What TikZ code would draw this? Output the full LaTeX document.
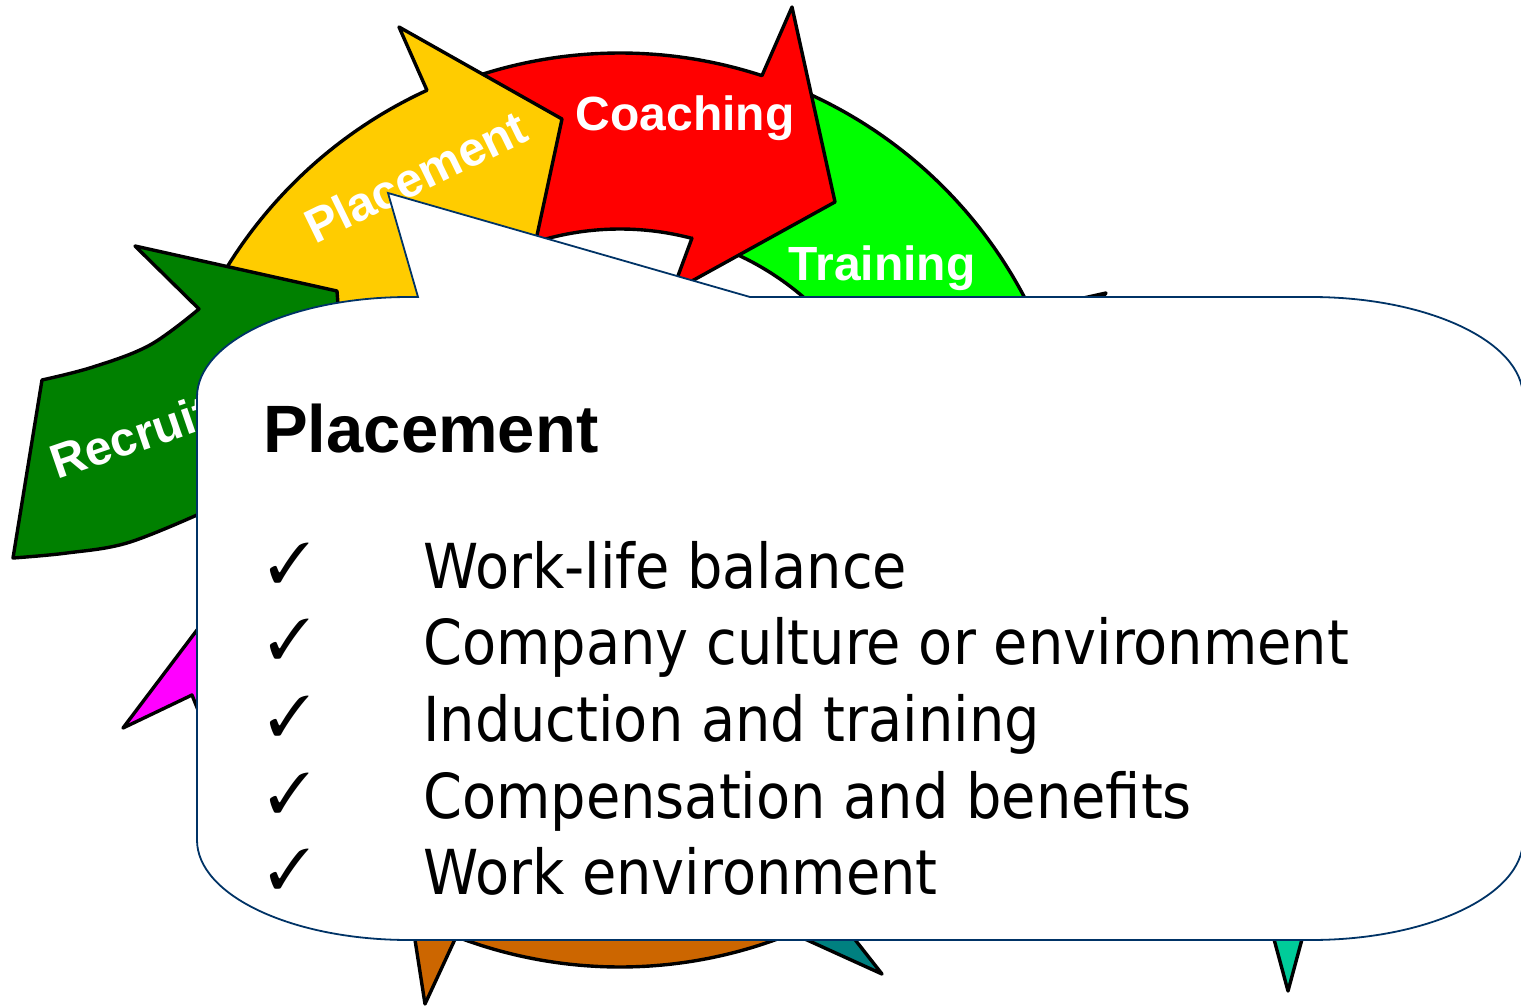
\documentclass[tikz,border=0pt]{standalone}
\usepackage{fontspec}
\usepackage{pifont}
\newfontfamily\lblfont{Liberation Sans}
\newfontfamily\itemfont[FakeStretch=0.9]{DejaVu Sans}
\definecolor{recruitgreen}{RGB}{0,128,0}
\definecolor{placeyellow}{RGB}{255,204,0}
\definecolor{coachred}{RGB}{255,0,0}
\definecolor{traingreen}{RGB}{0,255,0}
\definecolor{magentaA}{RGB}{255,0,255}
\definecolor{brownA}{RGB}{204,102,0}
\definecolor{tealA}{RGB}{0,128,128}
\definecolor{seagreenA}{RGB}{0,204,153}
\definecolor{calloutblue}{RGB}{0,51,102}
\tikzset{
  arrowshape/.style={draw=black, line width=3.4pt, line join=round},
  lbl/.style={text=white, inner sep=0pt, font=\lblfont\bfseries\fontsize{48}{56}\selectfont},
  itemtext/.style={anchor=base west, inner sep=0pt, font=\itemfont\fontsize{62}{70}\selectfont},
  chk/.style={anchor=base west, inner sep=0pt, font=\fontsize{56}{60}\selectfont},
  callout/.style={draw=calloutblue, fill=white, line width=1.8pt, line join=miter}
}
\begin{document}
\begin{tikzpicture}[x=1pt,y=-1pt]
\useasboundingbox (0,0) rectangle (1521,1006);
\clip (0,0) rectangle (1521,1006);
\fill[white] (0,0) rectangle (1521,1006);
% hidden lower arrows
\filldraw[arrowshape, fill=magentaA] (265,540) -- (123,728) -- (192,695) -- (230,790) -- (420,790) -- (420,560) -- cycle;
\filldraw[arrowshape, fill=brownA] (401,850) -- (425,1004) -- (456.2,936.6)
  -- plot[domain=111:68, samples=60] ({620+457*cos(\x)},{510+457*sin(\x)})
  -- (780,880) -- (500,880) -- cycle;
\filldraw[arrowshape, fill=tealA] (719,900) -- (882,974) -- (834.5,913.5) -- (900,860) -- (760,860) -- cycle;
\filldraw[arrowshape, fill=seagreenA] (1258,880) -- (1288,991) -- (1318,880) -- cycle;
% Training
\filldraw[arrowshape, fill=traingreen] ({620+281*cos(-68)},{510+281*sin(-68)})
  -- plot[domain=-68:-26, samples=60] ({620+457*cos(\x)},{510+457*sin(\x)})
  -- (1106,293) -- (983.4,445.9) -- (808.7,418)
  -- plot[domain=-26:-68, samples=60] ({620+281*cos(\x)},{510+281*sin(\x)}) -- cycle;
\node[lbl, anchor=base] (tTraining) at (882,280) {Training};
% Coaching
\filldraw[arrowshape, fill=coachred] ({620+281*cos(-120)},{510+281*sin(-120)})
  -- plot[domain=-120:-71.9, samples=60] ({620+457*cos(\x)},{510+457*sin(\x)})
  -- (792,7) -- (835,202) -- (672,292) -- (692,238)
  -- plot[domain=-75.2:-120, samples=60] ({620+281*cos(\x)},{510+281*sin(\x)}) -- cycle;
\node[lbl, anchor=base] (tCoaching) at (685,131) {Coaching};
% Placement
\filldraw[arrowshape, fill=placeyellow] ({620+281*cos(-158)},{510+281*sin(-158)})
  -- plot[domain=-158:-114.7, samples=60] ({620+462*cos(\x)},{510+462*sin(\x)})
  -- (399,27) -- (562,119) -- (521,310) -- ({620+281*cos(-114.7)},{510+281*sin(-114.7)})
  -- plot[domain=-114.7:-158, samples=60] ({620+281*cos(\x)},{510+281*sin(\x)}) -- cycle;
\node[lbl, anchor=base, rotate=26] (tPlacement) at (423,192) {Placement};
% Recruit
\filldraw[arrowshape, fill=recruitgreen] plot[smooth, tension=0.6] coordinates {(42,380) (93,367) (150,345) (199,309)}
  -- (135,246) -- (337,291) -- (350,460) -- (290,450)
  -- plot[smooth, tension=0.6] coordinates {(197,515) (127,543) (67,553) (13,558)} -- cycle;
\node[lbl, anchor=base, rotate=19] (tRecruit) at (136,453) {Recruit};
% callout
\filldraw[callout] (418,297) -- (388,193) -- (750,297) -- (1311,297)
  .. controls (1428.1,297) and (1523,341.8) .. (1523,397) -- (1523,840)
  .. controls (1523,895.2) and (1428.1,940) .. (1311,940) -- (409,940)
  .. controls (291.9,940) and (197,895.2) .. (197,840) -- (197,397)
  .. controls (197,341.8) and (291.9,297) .. (409,297) -- cycle;
\node[anchor=base west, inner sep=0pt, font=\lblfont\bfseries\fontsize{67}{72}\selectfont] (title) at (263,452) {Placement};
\node[chk] (c1) at (268,582) {\ding{51}};
\node[chk] (c2) at (268,658) {\ding{51}};
\node[chk] (c3) at (268,735) {\ding{51}};
\node[chk] (c4) at (268,812) {\ding{51}};
\node[chk] (c5) at (268,888) {\ding{51}};
\node[itemtext] (i1) at (423,588) {Work-life balance};
\node[itemtext] (i2) at (423,664) {Company culture or environment};
\node[itemtext] (i3) at (423,741) {Induction and training};
\node[itemtext] (i4) at (423,818) {Compensation and benefits};
\node[itemtext] (i5) at (423,894) {Work environment};
\end{tikzpicture}
\end{document}
